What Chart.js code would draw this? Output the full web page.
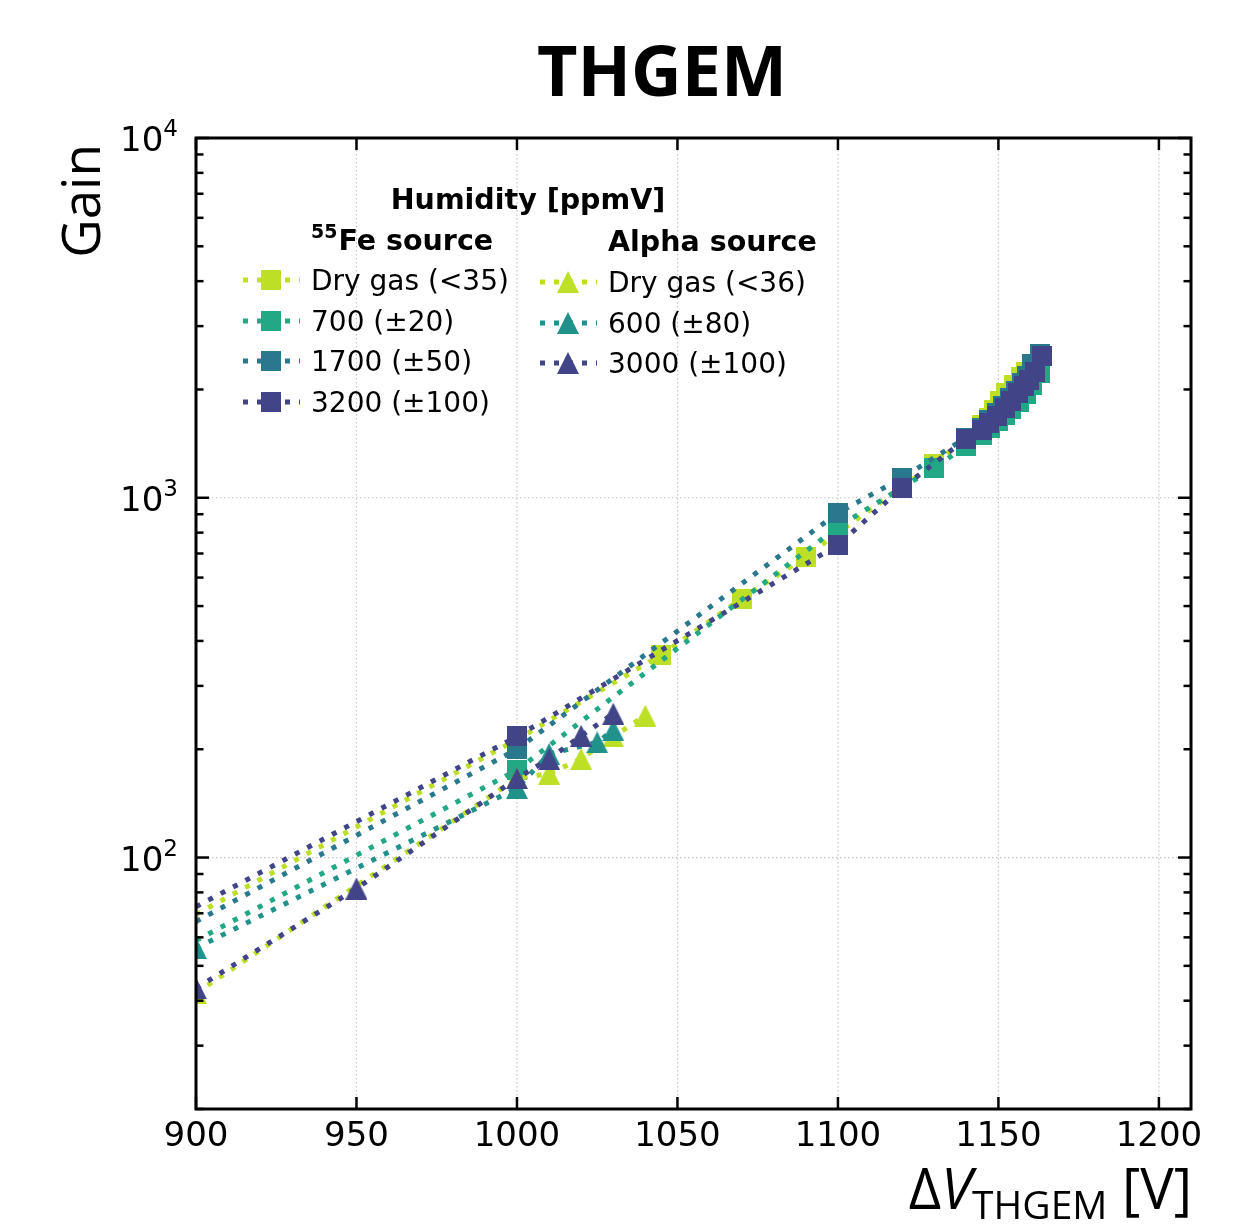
<!DOCTYPE html>
<html><head><meta charset="utf-8">
<script src="https://cdn.jsdelivr.net/npm/chart.js@4.4.1/dist/chart.umd.min.js"></script>
<style>html,body{margin:0;padding:0;background:#fff}canvas{display:block}</style>
</head><body>
<canvas id="c" width="1260" height="1224"></canvas>
<script>
// ---------------- data ----------------
const feLabels = ['Dry gas (<35)', '700 (\u00b120)', '1700 (\u00b150)', '3200 (\u00b1100)'];
const alphaLabels = ['Dry gas (<36)', '600 (\u00b180)', '3000 (\u00b1100)'];

// 55Fe source (squares); first point = start of dotted line at 900 V (no marker)
const feDryV  = [900, 1000, 1045, 1070, 1090, 1100, 1130, 1145, 1147, 1148.5, 1150.5, 1152.5, 1155, 1157, 1158.5];
const feDryG  = [69.5, 213, 366, 524, 686, 800, 1240, 1595, 1665, 1756, 1852, 1953, 2060, 2173, 2243];
const fe700V  = [900, 1000, 1100, 1130, 1140, 1145, 1147.5, 1150, 1152, 1154, 1156.5, 1158.5, 1160.5, 1163];
const fe700G  = [58.8, 175, 830, 1211, 1394, 1490, 1560, 1630, 1700, 1770, 1850, 1940, 2060, 2220];
const fe1700V = [900, 1000, 1100, 1120, 1140, 1145, 1147, 1149.5, 1151.5, 1153.5, 1155.5, 1157.5, 1159, 1160.5, 1163];
const fe1700G = [66.4, 200, 908, 1136, 1470, 1560, 1640, 1720, 1800, 1890, 1980, 2080, 2180, 2350, 2512];
const fe3200V = [900, 1000, 1100, 1120, 1140, 1145, 1147, 1149.5, 1152, 1154, 1156, 1158, 1159.5, 1161.5, 1163.5];
const fe3200G = [73, 217, 740, 1066, 1459, 1545, 1612, 1690, 1775, 1852, 1953, 2039, 2127, 2243, 2470];

// Alpha source (triangles)
const alphaDryV  = [900, 1000, 1010, 1020, 1030, 1040];
const alphaDryG  = [42, 166, 171, 188, 217, 248];
const alpha600V  = [900, 1000, 1010, 1025, 1030];
const alpha600G  = [56, 156, 194, 209, 226];
const alpha3000V = [900, 950, 1000, 1010, 1020, 1030];
const alpha3000G = [43.3, 82, 166, 188, 218, 251];

const xTicks = [900, 950, 1000, 1050, 1100, 1150, 1200];
const yTicks = [100, 1000, 10000];
const yTickBase = ['10', '10', '10'];
const yTickExp = ['2', '3', '4'];

// ---------------- styles ----------------
const feColors = ['#bddf26', '#22a884', '#2a788e', '#414487'];
const alphaColors = ['#bddf26', '#21918c', '#414487'];

function makeSquare(color, s) {
  const c = document.createElement('canvas'); c.width = s; c.height = s;
  const g = c.getContext('2d'); g.fillStyle = color; g.fillRect(0, 0, s, s); return c;
}
function makeTriangle(color, s) {
  const c = document.createElement('canvas'); c.width = s; c.height = s;
  const g = c.getContext('2d'); g.fillStyle = color;
  g.beginPath(); g.moveTo(s / 2, 0); g.lineTo(s, s); g.lineTo(0, s); g.closePath(); g.fill(); return c;
}
const feMarks = feColors.map(c => makeSquare(c, 20));
const alphaMarks = alphaColors.map(c => makeTriangle(c, 22));

const toPts = (V, G) => V.map((v, i) => ({x: v, y: G[i]}));
const feData = [[feDryV, feDryG], [fe700V, fe700G], [fe1700V, fe1700G], [fe3200V, fe3200G]];
const alphaData = [[alphaDryV, alphaDryG], [alpha600V, alpha600G], [alpha3000V, alpha3000G]];

const datasets = [];
let n = 0;
const total = feData.length + alphaData.length;
feData.forEach((d, i) => {
  datasets.push({
    label: feLabels[i], data: toPts(d[0], d[1]), showLine: true,
    borderColor: feColors[i], backgroundColor: feColors[i],
    borderWidth: 5, borderDash: [5, 9], borderCapStyle: 'butt',
    pointStyle: feMarks[i],
    pointRadius: ctx => ctx.dataIndex === 0 ? 0 : 10,
    order: total - (n++)
  });
});
alphaData.forEach((d, i) => {
  datasets.push({
    label: alphaLabels[i], data: toPts(d[0], d[1]), showLine: true,
    borderColor: alphaColors[i], backgroundColor: alphaColors[i],
    borderWidth: 5, borderDash: [5, 9], borderCapStyle: 'butt',
    pointStyle: alphaMarks[i], pointRadius: 10,
    order: total - (n++)
  });
});

// ---------------- custom drawing: grid, spines, ticks, titles, legend ----------------
const yMinor = [];
[10, 100, 1000].forEach(d => { for (let k = 2; k <= 9; k++) { const v = k * d; if (v >= 20 && v <= 10000) yMinor.push(v); } });

const deco = {
  id: 'deco',
  beforeDatasetsDraw(chart) {
    const {ctx, chartArea: a, scales: {x, y}} = chart;
    ctx.save();
    ctx.strokeStyle = '#c4c4c4'; ctx.lineWidth = 1.2; ctx.setLineDash([1.5, 2.5]);
    xTicks.forEach(v => {
      const px = x.getPixelForValue(v);
      ctx.beginPath(); ctx.moveTo(px, a.top); ctx.lineTo(px, a.bottom); ctx.stroke();
    });
    yTicks.forEach(v => {
      const py = y.getPixelForValue(v);
      ctx.beginPath(); ctx.moveTo(a.left, py); ctx.lineTo(a.right, py); ctx.stroke();
    });
    ctx.restore();
  },
  afterDatasetsDraw(chart) {
    const {ctx, chartArea: a, scales: {x, y}} = chart;
    ctx.save();
    ctx.strokeStyle = '#000'; ctx.setLineDash([]);
    ctx.lineWidth = 2.5;
    const tick = (x1, y1, x2, y2) => { ctx.beginPath(); ctx.moveTo(x1, y1); ctx.lineTo(x2, y2); ctx.stroke(); };
    xTicks.forEach(v => {
      const px = x.getPixelForValue(v);
      tick(px, a.bottom, px, a.bottom - 12);
      tick(px, a.top, px, a.top + 12);
    });
    yTicks.forEach(v => {
      const py = y.getPixelForValue(v);
      tick(a.left, py, a.left + 13, py);
      tick(a.right, py, a.right - 13, py);
    });
    yMinor.forEach(v => {
      const py = y.getPixelForValue(v);
      tick(a.left, py, a.left + 7.5, py);
      tick(a.right, py, a.right - 7.5, py);
    });
    ctx.lineWidth = 3;
    ctx.strokeRect(a.left, a.top, a.right - a.left, a.bottom - a.top);
    ctx.restore();
  },
  afterDraw(chart) {
    const ctx = chart.ctx;
    const {scales: {y}, chartArea: a} = chart;
    ctx.save();
    ctx.fillStyle = '#000';
    // y tick labels with superscript exponent, placed by the y scale
    yTicks.forEach((v, i) => {
      const py = y.getPixelForValue(v);
      ctx.textAlign = 'right'; ctx.textBaseline = 'alphabetic';
      ctx.font = '23px "DejaVu Sans"';
      const ew = ctx.measureText(yTickExp[i]).width;
      ctx.fillText(yTickExp[i], a.left - 18, py - 2);
      ctx.font = '34px "DejaVu Sans"';
      ctx.fillText(yTickBase[i], a.left - 18 - ew, py + 13);
    });
    // main title
    ctx.font = 'bold 70px "Open Sans"'; ctx.textAlign = 'center'; ctx.textBaseline = 'alphabetic';
    ctx.fillText('THGEM', 662, 96);
    // y title
    ctx.save();
    ctx.translate(100, 144); ctx.rotate(-Math.PI / 2);
    ctx.font = '53px "Open Sans"'; ctx.textAlign = 'right';
    ctx.fillText('Gain', 0, 0);
    ctx.restore();
    // x title: ΔV_THGEM [V], right aligned
    const parts = [
      {t: '\u0394', f: '56px "Open Sans"', dy: 0},
      {t: 'V', f: 'italic 56px "Open Sans"', dy: 0},
      {t: 'THGEM', f: '39px "Open Sans"', dy: 10},
      {t: ' [V]', f: '56px "Open Sans"', dy: 0}
    ];
    let w = 0;
    parts.forEach(p => { ctx.font = p.f; p.w = ctx.measureText(p.t).width; w += p.w; });
    let cx = 1192 - w;
    ctx.textAlign = 'left';
    parts.forEach(p => { ctx.font = p.f; ctx.fillText(p.t, cx, 1209 + p.dy); cx += p.w; });

    // legend
    ctx.textAlign = 'center';
    ctx.font = 'bold 28.5px "DejaVu Sans"';
    ctx.fillText('Humidity [ppmV]', 528, 209);
    ctx.textAlign = 'left';
    ctx.font = 'bold 19px "DejaVu Sans"';
    ctx.fillText('55', 311, 238);
    const sw = ctx.measureText('55').width;
    ctx.font = 'bold 28.5px "DejaVu Sans"';
    ctx.fillText('Fe source', 311 + sw + 1, 250);
    ctx.fillText('Alpha source', 608, 251);

    const drawEntry = (lx, cy, color, mark, label) => {
      ctx.save();
      ctx.strokeStyle = color; ctx.lineWidth = 5; ctx.setLineDash([5, 9]); ctx.lineCap = 'butt';
      ctx.beginPath(); ctx.moveTo(lx, cy); ctx.lineTo(lx + 57, cy); ctx.stroke();
      ctx.restore();
      ctx.drawImage(mark, lx + 28 - mark.width / 2, cy - mark.height / 2);
      ctx.font = '28px "DejaVu Sans"'; ctx.fillStyle = '#000'; ctx.textAlign = 'left';
      ctx.fillText(label, lx + 68, cy + 10);
    };
    const feRows = [280, 321, 361, 402];
    feLabels.forEach((l, i) => drawEntry(243, feRows[i], feColors[i], feMarks[i], l));
    const alphaRows = [282, 323, 363];
    alphaLabels.forEach((l, i) => drawEntry(540, alphaRows[i], alphaColors[i], alphaMarks[i], l));
    ctx.restore();
  }
};

new Chart(document.getElementById('c'), {
  type: 'scatter',
  data: {datasets},
  options: {
    responsive: false, animation: false, events: [],
    layout: {padding: {top: 138, right: 69, left: 0, bottom: 0}},
    plugins: {legend: {display: false}, title: {display: false}, tooltip: {enabled: false}},
    scales: {
      x: {
        type: 'linear', min: 900, max: 1210,
        afterBuildTicks: s => { s.ticks = xTicks.map(v => ({value: v})); },
        afterFit: s => { s.height = 115; },
        grid: {display: false, drawTicks: false}, border: {display: false},
        ticks: {font: {family: 'DejaVu Sans', size: 34}, color: '#000', padding: 8, maxRotation: 0, autoSkip: false,
                callback: v => String(v)}
      },
      y: {
        type: 'logarithmic', min: 20, max: 10000,
        afterBuildTicks: s => { s.ticks = yTicks.map(v => ({value: v})); },
        afterFit: s => { s.width = 196; },
        grid: {display: false, drawTicks: false}, border: {display: false},
        ticks: {display: false}
      }
    }
  },
  plugins: [deco]
});
</script>
</body></html>
